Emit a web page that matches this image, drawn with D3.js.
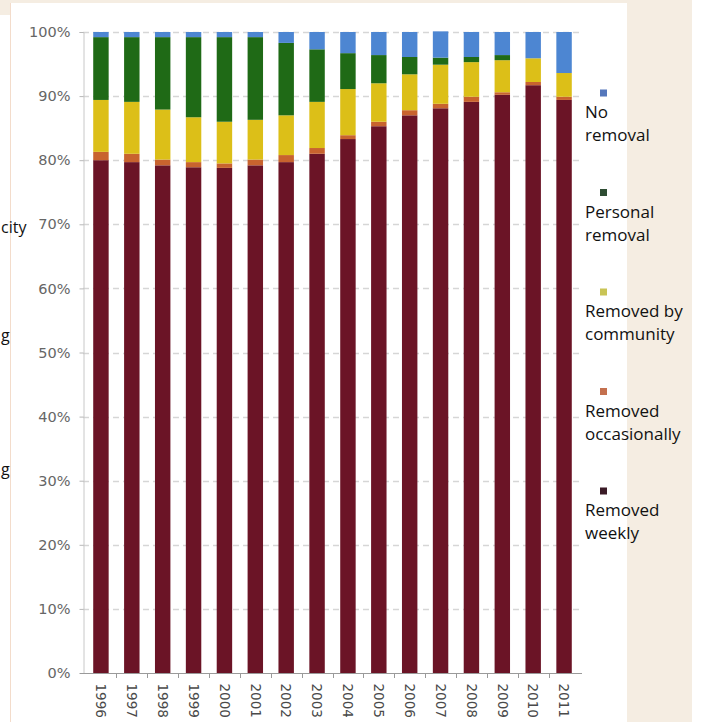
<!DOCTYPE html>
<html><head><meta charset="utf-8">
<script src="https://cdn.jsdelivr.net/npm/d3@7"></script>
<style>html,body{margin:0;padding:0;background:#f5ede2;}svg{display:block;}</style>
</head><body>
<script>
const years = ["1996","1997","1998","1999","2000","2001","2002","2003","2004","2005","2006","2007","2008","2009","2010","2011"];
const removedWeekly       = [80.0, 79.7, 79.2, 78.9, 78.8, 79.2, 79.7, 81.0, 83.3, 85.3, 87.0, 88.1, 89.1, 90.2, 91.7, 89.4];
const removedOccasionally = [ 1.3,  1.3,  0.9,  0.8,  0.7,  0.9,  1.1,  0.9,  0.6,  0.7,  0.8,  0.7,  0.8,  0.4,  0.5,  0.5];
const removedByCommunity  = [ 8.1,  8.1,  7.8,  7.0,  6.5,  6.2,  6.2,  7.2,  7.2,  6.0,  5.6,  6.1,  5.4,  5.0,  3.7,  3.7];
const personalRemoval     = [ 9.8, 10.1, 11.3, 12.5, 13.2, 12.9, 11.3,  8.2,  5.6,  4.4,  2.7,  1.1,  0.8,  0.8,  0.0,  0.0];
const noRemoval           = [ 0.8,  0.8,  0.8,  0.8,  0.8,  0.8,  1.7,  2.7,  3.3,  3.6,  3.9,  4.1,  3.9,  3.6,  4.1,  6.4];
const yTicks = [0,10,20,30,40,50,60,70,80,90,100];
const seriesKeys = ["Removed weekly","Removed occasionally","Removed by community","Personal removal","No removal"];
const seriesValues = [removedWeekly, removedOccasionally, removedByCommunity, personalRemoval, noRemoval];
const seriesColors = ["#6b1426","#c8632e","#dcbf18","#1f6a16","#4d86d2"];
const legendOrder = ["No removal","Personal removal","Removed by community","Removed occasionally","Removed weekly"];
const legendLines = {"No removal":["No","removal"],"Personal removal":["Personal","removal"],"Removed by community":["Removed by","community"],"Removed occasionally":["Removed","occasionally"],"Removed weekly":["Removed","weekly"]};
const legendMarkerColors = {"No removal":"#5577bb","Personal removal":"#2e4d33","Removed by community":"#c9c455","Removed occasionally":"#c4704e","Removed weekly":"#3a1a26"};
const backgroundFragments = ["city","g","g"];

const W = 704, H = 722;
const svg = d3.select("body").append("svg").attr("width", W).attr("height", H);

// background panels
svg.append("rect").attr("x",0).attr("y",0).attr("width",W).attr("height",H).attr("fill","#f5ede2");
svg.append("rect").attr("x",0).attr("y",15).attr("width",12).attr("height",H-15).attr("fill","#ffffff");
svg.append("rect").attr("x",692).attr("y",0).attr("width",12).attr("height",H).attr("fill","#ffffff");
svg.append("rect").attr("x",10).attr("y",3).attr("width",617).attr("height",H).attr("fill","#ffffff");
svg.append("line").attr("x1",10.5).attr("x2",10.5).attr("y1",3).attr("y2",H).attr("stroke","#f3dccb").attr("stroke-width",1);

// fragments of text from behind the panel
const frag = svg.append("g").attr("font-family","'Open Sans', sans-serif").attr("font-size",16).attr("fill","#111");
const fragPos = [[1,233],[1,341],[1,475]];
backgroundFragments.forEach((t,i)=>frag.append("text").attr("x",fragPos[i][0]).attr("y",fragPos[i][1]).text(t));

const data = years.map((yr,i)=>{const o={year:yr}; seriesKeys.forEach((k,j)=>o[k]=seriesValues[j][i]); return o;});
const stacked = d3.stack().keys(seriesKeys)(data);

const x = d3.scaleBand().domain(years).range([85.5, 579.5]).paddingInner(0.5).paddingOuter(0.25);
const y = d3.scaleLinear().domain([0,100]).range([673, 32]);

// gridlines
svg.append("g").selectAll("line").data(yTicks.filter(d=>d>0)).join("line")
  .attr("x1",83).attr("x2",580).attr("y1",d=>Math.round(y(d))+0.5).attr("y2",d=>Math.round(y(d))+0.5)
  .attr("stroke","#d6d6d6").attr("stroke-width",1.3).attr("stroke-dasharray","6,4");

// bars
const color = d3.scaleOrdinal().domain(seriesKeys).range(seriesColors);
svg.append("g").selectAll("g").data(stacked).join("g").attr("fill",d=>color(d.key))
  .selectAll("rect").data(d=>d).join("rect")
  .attr("x",d=>x(d.data.year)).attr("width",x.bandwidth())
  .attr("y",d=>y(d[1])).attr("height",d=>Math.max(0,y(d[0])-y(d[1])));

// y axis
const yAxis = d3.axisLeft(y).tickValues(yTicks).tickFormat(d=>d+"%").tickSize(4).tickPadding(9);
const ya = svg.append("g").attr("transform","translate(83.5,0)").call(yAxis);
ya.select(".domain").attr("stroke","#c8c8c8");
ya.selectAll(".tick line").attr("stroke","#b8b8b8");
ya.selectAll("text").attr("font-family","'DejaVu Sans', sans-serif").attr("font-size",14.5).attr("fill","#666");

// x axis
const xAxis = d3.axisBottom(x).tickSize(0).tickPadding(0);
const xa = svg.append("g").attr("transform","translate(0,673.5)").call(xAxis);
xa.select(".domain").attr("d","M80,0H582").attr("stroke","#9a9a9a");
xa.selectAll(".tick text").attr("transform","translate(0,10) rotate(90)").attr("text-anchor","start").attr("dy","0.35em")
  .attr("font-family","'DejaVu Sans', sans-serif").attr("font-size",13.5).attr("fill","#4a4a4a");
// tick marks between bands
svg.append("g").selectAll("line").data(years.slice(1)).join("line")
  .attr("x1",d=>Math.round(x(d)-x.step()*0.25)+0.5).attr("x2",d=>Math.round(x(d)-x.step()*0.25)+0.5)
  .attr("y1",673).attr("y2",678).attr("stroke","#9a9a9a");

// legend
const lg = svg.append("g").attr("font-family","'Open Sans', sans-serif").attr("font-size",17).attr("fill","#111");
legendOrder.forEach((k,i)=>{
  const cy = 93 + i*99.5;
  lg.append("rect").attr("x",600).attr("y",cy-3.5).attr("width",7).attr("height",7).attr("fill",legendMarkerColors[k]);
  legendLines[k].forEach((ln,j)=>{
    lg.append("text").attr("x",585).attr("y",cy+25+j*23).text(ln);
  });
});
</script>
</body></html>
